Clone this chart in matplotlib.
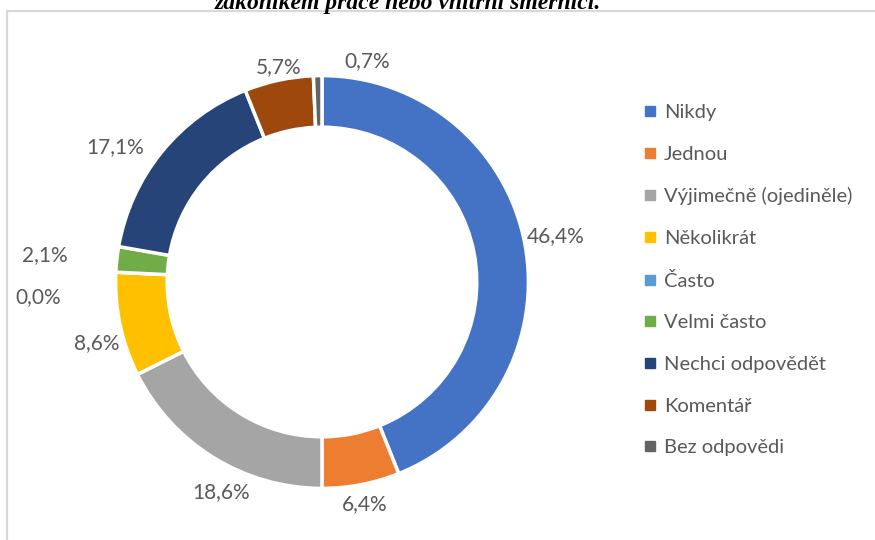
import numpy as np
import matplotlib
matplotlib.use("Agg")
import matplotlib.pyplot as plt
from matplotlib.lines import Line2D
from matplotlib.patches import Rectangle

# data
categories = ["Nikdy", "Jednou", "Výjimečně (ojediněle)", "Několikrát", "Často",
              "Velmi často", "Nechci odpovědět", "Komentář", "Bez odpovědi"]
values = [46.4, 6.4, 18.6, 8.6, 0.0, 2.1, 17.1, 5.7, 0.7]
colors = ["#4472C4", "#ED7D31", "#A5A5A5", "#FFC000", "#5B9BD5",
          "#70AD47", "#264478", "#9E480E", "#636363"]
title_text = "zákoníkem práce nebo vnitřní směrnicí."

# extra shift of labels as Excel placed them (data units)
label_nudge = {0: (-0.02, 0.0), 2: (0.11, -0.05), 3: (0.055, -0.055), 4: (-0.21, -0.13),
               5: (-0.18, 0.0), 6: (-0.1, -0.08), 7: (0.02, -0.03), 8: (0.24, 0.0)}

W, H = 875, 540
plt.rcParams["font.family"] = ["Lato", "DejaVu Sans"]
fig = plt.figure(figsize=(W / 100, H / 100), dpi=100)

# light frame of the chart area
fig.patches.append(Rectangle((7 / W, -0.1), 1.1, 1 - 11 / H + 0.1, transform=fig.transFigure,
                             fill=False, edgecolor="#D9D9D9", linewidth=1.6))

fig.text(215 / W, 1 - 9 / H, title_text, family="Liberation Serif", style="italic",
         weight="bold", fontsize=17, va="baseline", ha="left", color="black")

R = 206.0
ax = fig.add_axes([0, 0, 644 / W, 516 / H])
ax.set_xlim(-322 / R, 322 / R)
ax.set_ylim(-258 / R, 258 / R)
ax.axis("off")

wedges, _ = ax.pie(values, colors=colors, startangle=90, counterclock=False, radius=1.0,
                   wedgeprops=dict(width=0.25, edgecolor="white", linewidth=2.5))

total = sum(values)
cum = np.cumsum([0] + values)
for i, v in enumerate(values):
    mid = (cum[i] + v / 2) / total * 2 * np.pi
    sx, sy = np.sin(mid), np.cos(mid)
    ext = (30 * abs(sx) + 10 * abs(sy)) / R
    r = 1.0 + 0.02 + ext
    dx, dy = label_nudge.get(i, (0, 0))
    ax.text(r * sx + dx, r * sy + dy, f"{v:.1f}%".replace(".", ","), ha="center", va="center",
            fontsize=15, color="#595959", clip_on=False)

handles = [Line2D([], [], linestyle="none", marker="s", markersize=7,
                  markerfacecolor=c, markeredgecolor=c) for c in colors]
fig.legend(handles, categories, loc="upper left", bbox_to_anchor=(643 / W, 1 - 104 / H),
           frameon=False, fontsize=14.5, labelcolor="#595959", handlelength=0.7,
           handletextpad=0.35, labelspacing=1.22, borderaxespad=0, borderpad=0)

fig.savefig("out.png", dpi=100)
